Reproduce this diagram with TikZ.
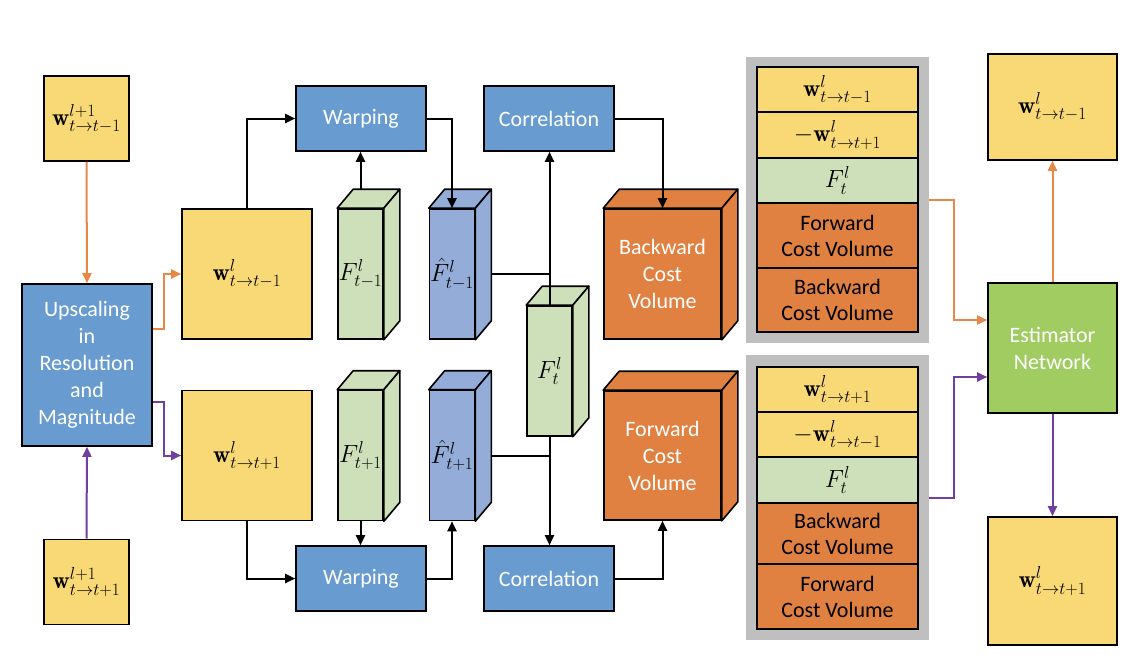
\documentclass[tikz,border=0pt]{standalone}
\usepackage{fontspec}
\setsansfont{Carlito}
\usetikzlibrary{arrows.meta,calc}
\definecolor{cyel}{RGB}{249,217,118}
\definecolor{cblu}{RGB}{104,155,208}
\definecolor{cgrn}{RGB}{205,224,186}
\definecolor{chat}{RGB}{148,172,216}
\definecolor{corg}{RGB}{224,129,66}
\definecolor{cest}{RGB}{160,204,98}
\definecolor{cpan}{RGB}{191,191,191}
\definecolor{aorg}{RGB}{232,136,72}
\definecolor{apur}{RGB}{112,64,160}
\tikzset{
  base/.style={draw=black,line width=1.6pt,inner sep=0pt,align=center},
  yel/.style={base,fill=cyel,font=\fontsize{24}{28}\selectfont},
  sansw/.style={text=white,font=\sffamily\fontsize{22}{27}\selectfont},
  blu/.style={base,fill=cblu,sansw,minimum width=130pt,minimum height=65pt},
  feat/.style={base,font=\fontsize{24}{28}\selectfont,minimum width=45pt,minimum height=130pt},
  strip/.style={base,minimum width=161pt,font=\fontsize{24}{28}\selectfont},
  sstrip/.style={strip,font=\sffamily\fontsize{22}{26}\selectfont},
  face/.style={draw=black,line width=1.6pt,line join=round},
  arr/.style={line width=2pt,-{Triangle[length=10pt,width=9pt]}},
  line/.style={line width=2pt},
  oarr/.style={arr,draw=aorg,color=aorg},
  parr/.style={arr,draw=apur,color=apur},
}
\newcommand\cubefaces[2]{%
  \filldraw[face,fill=#2] (#1.north west) -- ++(16,-19) -- ($(#1.north east)+(16,-19)$) -- (#1.north east) -- cycle;
  \filldraw[face,fill=#2] (#1.north east) -- ++(16,-19) -- ($(#1.south east)+(16,-19)$) -- (#1.south east) -- cycle;}
\begin{document}
\begin{tikzpicture}[x=1pt,y=-1pt]
\useasboundingbox (0,0) rectangle (1138,672);
% inputs
\node[yel,minimum width=85pt,minimum height=85pt] (in1) at (86.5,118.5) {$\mathbf{w}^{l+1}_{t\to t-1}$};
\node[yel,minimum width=85pt,minimum height=85pt] (in2) at (86.5,582) {$\mathbf{w}^{l+1}_{t\to t+1}$};
\node[blu,minimum width=130pt,minimum height=162pt] (up) at (87,365) {Upscaling\\in\\Resolution\\and\\Magnitude};
\node[yel,minimum width=130pt,minimum height=130pt] (wb) at (247,274) {$\mathbf{w}^{l}_{t\to t-1}$};
\node[yel,minimum width=130pt,minimum height=130pt] (wf) at (247,455.5) {$\mathbf{w}^{l}_{t\to t+1}$};
% processing
\node[blu] (warp1) at (361,118.5) {Warping};
\node[blu] (corr1) at (549,118.5) {Correlation};
\node[blu] (warp2) at (361,578.5) {Warping};
\node[blu] (corr2) at (549,578.5) {Correlation};
% feature cuboids
\node[feat,fill=cgrn] (F1) at (360.5,274) {$F^{l}_{t-1}$};
\cubefaces{F1}{cgrn}
\node[feat,fill=chat] (H1) at (452,274) {$\hat{F}^{l}_{t-1}$};
\cubefaces{H1}{chat}
\node[feat,fill=cgrn] (F2) at (360.5,455.5) {$F^{l}_{t+1}$};
\cubefaces{F2}{cgrn}
\node[feat,fill=chat] (H2) at (452,455.5) {$\hat{F}^{l}_{t+1}$};
\cubefaces{H2}{chat}
\node[feat,fill=cgrn] (Ft) at (549.5,371) {$F^{l}_{t}$};
\cubefaces{Ft}{cgrn}
% cost volumes
\node[base,fill=corg,sansw,minimum width=117pt,minimum height=130pt] (bcv) at (662.5,274) {Backward\\Cost\\Volume};
\cubefaces{bcv}{corg}
\node[base,fill=corg,sansw,minimum width=117pt,minimum height=129pt] (fcv) at (662.5,455.5) {Forward\\Cost\\Volume};
\cubefaces{fcv}{corg}
% panels
\node[fill=cpan,minimum width=183pt,minimum height=286pt,inner sep=0pt] (p1) at (837.5,200) {};
\node[strip,fill=cyel,minimum height=45pt] (s11) at (837.5,89.5) {$\mathbf{w}^{l}_{t\to t-1}$};
\node[strip,fill=cyel,minimum height=46pt] (s12) at (837.5,135) {$-\mathbf{w}^{l}_{t\to t+1}$};
\node[strip,fill=cgrn,minimum height=45pt] (s13) at (837.5,180.5) {$F^{l}_{t}$};
\node[sstrip,fill=corg,minimum height=65pt] (s14) at (837.5,235.5) {Forward\\Cost Volume};
\node[sstrip,fill=corg,minimum height=64pt] (s15) at (837.5,300) {Backward\\Cost Volume};
\node[fill=cpan,minimum width=183pt,minimum height=285pt,inner sep=0pt] (p2) at (837.5,497.5) {};
\node[strip,fill=cyel,minimum height=45pt] (s21) at (837.5,389.5) {$\mathbf{w}^{l}_{t\to t+1}$};
\node[strip,fill=cyel,minimum height=45pt] (s22) at (837.5,434.5) {$-\mathbf{w}^{l}_{t\to t-1}$};
\node[strip,fill=cgrn,minimum height=46pt] (s23) at (837.5,480) {$F^{l}_{t}$};
\node[sstrip,fill=corg,minimum height=61pt] (s24) at (837.5,533.5) {Backward\\Cost Volume};
\node[sstrip,fill=corg,minimum height=65pt] (s25) at (837.5,596.5) {Forward\\Cost Volume};
% estimator and outputs
\node[yel,minimum width=129pt,minimum height=106pt] (out1) at (1052.5,107) {$\mathbf{w}^{l}_{t\to t-1}$};
\node[base,fill=cest,sansw,minimum width=129pt,minimum height=130pt] (est) at (1052.5,348) {Estimator\\Network};
\node[yel,minimum width=129pt,minimum height=128pt] (out2) at (1052.5,581) {$\mathbf{w}^{l}_{t\to t+1}$};
% connectors
\draw[oarr] (in1.south) -- (up.north);
\draw[parr] (in2.north) -- (up.south);
\draw[oarr] (up.east |- {0,329}) -- ++(11,0) |- (wb.west);
\draw[parr] (up.east |- {0,402}) -- ++(11,0) |- (wf.west);
\draw[arr] (wb.north) |- (warp1.west);
\draw[arr] (wf.south) |- (warp2.west);
\draw[arr] ([yshift=19pt]F1.north) -- (F1.north |- warp1.south);
\draw[arr] (warp1.east) -| (H1.north);
\draw[arr] (F2.south) -- (F2.south |- warp2.north);
\draw[arr] (warp2.east) -| (H2.south);
\draw[line] ([xshift=16pt]H1.east) -- (Ft.north |- H1.east);
\draw[line] ([xshift=16pt]H2.east) -- (Ft.south |- H2.east);
\draw[arr] (Ft.north) -- (Ft.north |- corr1.south);
\draw[arr] (Ft.south) -- (Ft.south |- corr2.north);
\draw[arr] (corr1.east) -| (bcv.north);
\draw[arr] (corr2.east) -| (fcv.south);
\draw[oarr] (p1.east) -- ++(25,0) |- (est.west |- {0,320});
\draw[parr] (p2.east) -- ++(25,0) |- (est.west |- {0,377});
\draw[oarr] (est.north) -- (out1.south);
\draw[parr] (est.south) -- (out2.north);
\end{tikzpicture}
\end{document}
